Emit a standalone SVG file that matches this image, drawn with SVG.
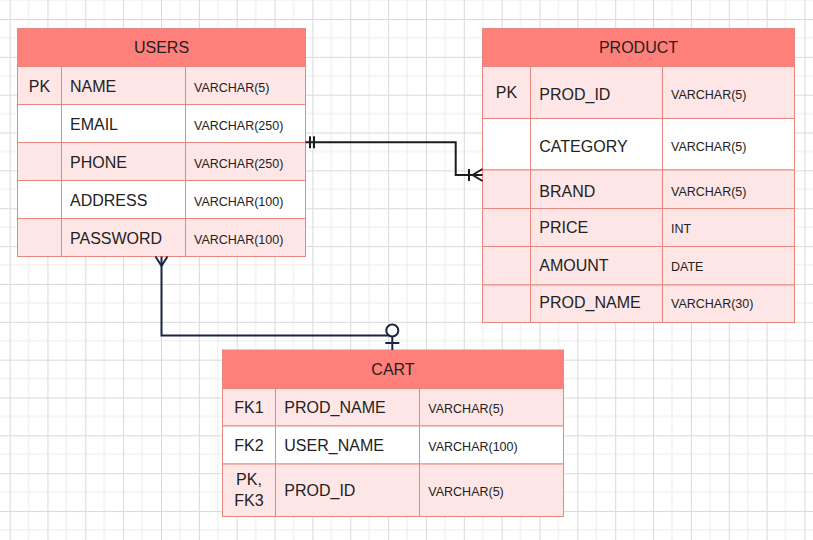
<svg xmlns="http://www.w3.org/2000/svg" width="813" height="540" viewBox="0 0 813 540">
<defs>
  <pattern id="grid" x="9.6" y="19" width="37.85" height="37.85" patternUnits="userSpaceOnUse">
    <path d="M18.925 0V37.85M0 18.925H37.85" stroke="#ebebeb" stroke-width="1" fill="none"/>
    <path d="M0.5 0V37.85M0 0.5H37.85" stroke="#d9d9d9" stroke-width="1" fill="none"/>
  </pattern>
</defs>
<style>
  .hdr { fill: #ff7f7a; stroke: #e8877f; stroke-width: 1; }
  .pink { fill: #ffe6e6; stroke: #e8877f; stroke-width: 1; }
  .white { fill: #ffffff; stroke: #e8877f; stroke-width: 1; }
  .div { stroke: #e8877f; stroke-width: 1; fill: none; }
  text { font-family: "Liberation Sans", Arial, sans-serif; fill: #222222; }
  .title { font-size: 16px; text-anchor: middle; }
  .key { font-size: 16px; text-anchor: middle; }
  .fld { font-size: 16px; }
  .typ { font-size: 12.5px; }
  .c1 { stroke: #1c1c1c; stroke-width: 2; fill: none; }
  .c2 { stroke: #1b2340; stroke-width: 2; fill: none; }
</style>
<rect width="813" height="540" fill="#ffffff"/>
<rect width="813" height="540" fill="url(#grid)"/>

<g id="users">
  <rect class="hdr" x="17.5" y="28.5" width="288" height="38"/>
  <rect class="pink" x="17.5" y="66.5" width="288" height="38"/>
  <rect class="white" x="17.5" y="104.5" width="288" height="38"/>
  <rect class="pink" x="17.5" y="142.5" width="288" height="38"/>
  <rect class="white" x="17.5" y="180.5" width="288" height="38"/>
  <rect class="pink" x="17.5" y="218.5" width="288" height="38"/>
  <path class="div" d="M61.5 66.5V256.5M185.5 66.5V256.5"/>
  <text class="title" x="161.5" y="53.3">USERS</text>
  <text class="key" x="39.5" y="91.5">PK</text>
  <text class="fld" x="70" y="91.5">NAME</text>
  <text class="typ" x="194" y="91.5">VARCHAR(5)</text>
  <text class="fld" x="70" y="129.5">EMAIL</text>
  <text class="typ" x="194" y="129.5">VARCHAR(250)</text>
  <text class="fld" x="70" y="167.5">PHONE</text>
  <text class="typ" x="194" y="167.5">VARCHAR(250)</text>
  <text class="fld" x="70" y="205.5">ADDRESS</text>
  <text class="typ" x="194" y="205.5">VARCHAR(100)</text>
  <text class="fld" x="70" y="243.5">PASSWORD</text>
  <text class="typ" x="194" y="243.5">VARCHAR(100)</text>
</g>

<g id="product">
  <rect class="hdr" x="482.5" y="28.5" width="312" height="38"/>
  <rect class="pink" x="482.5" y="66.5" width="312" height="52"/>
  <rect class="white" x="482.5" y="118.5" width="312" height="51.5"/>
  <rect class="pink" x="482.5" y="170" width="312" height="38.5"/>
  <rect class="pink" x="482.5" y="208.5" width="312" height="38"/>
  <rect class="pink" x="482.5" y="246.5" width="312" height="38.5"/>
  <rect class="pink" x="482.5" y="285" width="312" height="37.5"/>
  <path class="div" d="M530.5 66.5V322.5M662.5 66.5V322.5"/>
  <text class="title" x="638.5" y="53.3">PRODUCT</text>
  <text class="key" x="506.5" y="98.3">PK</text>
  <text class="fld" x="539.3" y="99.8">PROD_ID</text>
  <text class="typ" x="671" y="99">VARCHAR(5)</text>
  <text class="fld" x="539.3" y="151.5">CATEGORY</text>
  <text class="typ" x="671" y="150.5">VARCHAR(5)</text>
  <text class="fld" x="539.3" y="196.5">BRAND</text>
  <text class="typ" x="671" y="196">VARCHAR(5)</text>
  <text class="fld" x="539.3" y="233">PRICE</text>
  <text class="typ" x="671" y="233">INT</text>
  <text class="fld" x="539.3" y="270.5">AMOUNT</text>
  <text class="typ" x="671" y="270.5">DATE</text>
  <text class="fld" x="539.3" y="308.3">PROD_NAME</text>
  <text class="typ" x="671" y="308.3">VARCHAR(30)</text>
</g>

<g id="cart">
  <rect class="hdr" x="222.5" y="350" width="341" height="38.5"/>
  <rect class="pink" x="222.5" y="388.5" width="341" height="37.5"/>
  <rect class="white" x="222.5" y="426" width="341" height="38"/>
  <rect class="pink" x="222.5" y="464" width="341" height="52.5"/>
  <path class="div" d="M275.5 388.5V516.5M419.5 388.5V516.5"/>
  <text class="title" x="393" y="375">CART</text>
  <text class="key" x="249" y="413.3">FK1</text>
  <text class="fld" x="284.3" y="413.3">PROD_NAME</text>
  <text class="typ" x="428.3" y="413">VARCHAR(5)</text>
  <text class="key" x="249" y="451">FK2</text>
  <text class="fld" x="284.3" y="451">USER_NAME</text>
  <text class="typ" x="428.3" y="451">VARCHAR(100)</text>
  <text class="key" x="249" y="485">PK,</text>
  <text class="key" x="249" y="505.7">FK3</text>
  <text class="fld" x="284.3" y="495.7">PROD_ID</text>
  <text class="typ" x="428.3" y="495.5">VARCHAR(5)</text>
</g>

<g id="connectors">
  <g id="users-product">
    <path class="c1" d="M305.5 142.3H455.7V175H482.5"/>
    <path class="c1" d="M310 136.3V148.3M314 136.3V148.3"/>
    <path class="c1" d="M469 169V181M472.5 175L482.5 169M472.5 175L482.5 181"/>
  </g>
  <g id="users-cart">
    <path class="c2" d="M161.5 256.5V335.5H392.3V350"/>
    <path class="c2" d="M161.5 266L155.5 256.5M161.5 266L167.5 256.5"/>
    <circle class="c2" cx="392.3" cy="330.5" r="6" fill="#ffffff" style="fill:#ffffff"/>
    <path class="c2" d="M385.3 343H399.3"/>
  </g>
</g>
</svg>
